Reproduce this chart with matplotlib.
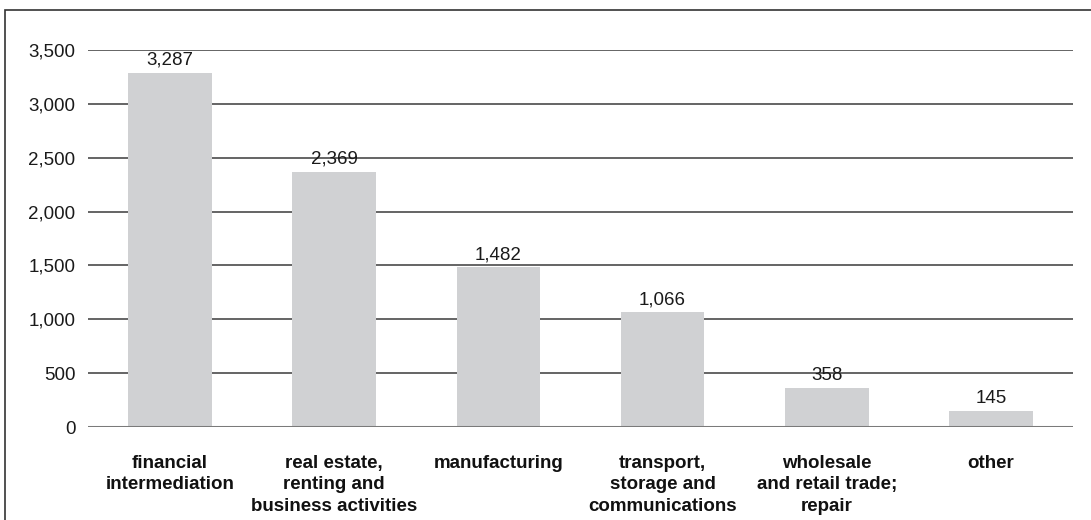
import matplotlib.pyplot as plt
from matplotlib.patches import Rectangle

# sectors and values
sectors = [
    'financial\nintermediation',
    'real estate,\nrenting and\nbusiness activities',
    'manufacturing',
    'transport,\nstorage and\ncommunications',
    'wholesale\nand retail trade;\nrepair',
    'other',
]
values = [3287, 2369, 1482, 1066, 358, 145]
y_ticks = [0, 500, 1000, 1500, 2000, 2500, 3000, 3500]

plt.rcParams['font.family'] = ['Liberation Sans', 'DejaVu Sans']

fig = plt.figure(figsize=(10.91, 5.20), dpi=100)
ax = fig.add_axes([88 / 1091, 93 / 520, 985 / 1091, 377 / 520])

x = range(len(values))
bars = ax.bar(x, values, width=0.51, color='#d0d1d3', zorder=2)

for b, v in zip(bars, values):
    ax.annotate(f'{v:,}', (b.get_x() + b.get_width() / 2, v),
                xytext=(0, 3), textcoords='offset points',
                ha='center', va='bottom', fontsize=13.5, color='#1a1a1a',
                clip_on=False, zorder=3)

# horizontal rules behind bars
for t in y_ticks[1:]:
    ax.axhline(t, color='#3a3a3a', lw=1.1, zorder=1)
ax.axhline(0, color='#7a7a7a', lw=2.2, zorder=3)

ax.set_xlim(-0.5, len(values) - 0.5)
ax.set_ylim(0, 3500)
ax.set_yticks(y_ticks)
ax.set_yticklabels([f'{t:,}' for t in y_ticks], fontsize=13.5, color='#1a1a1a')
ax.tick_params(axis='y', length=0, pad=9)
ax.set_xticks(list(x))
ax.set_xticklabels(sectors, fontsize=13.5, fontweight='bold', linespacing=1.36,
                   color='#111111', va='top')
ax.tick_params(axis='x', length=0, pad=20)
for s in ax.spines.values():
    s.set_visible(False)

# frame round the figure (right and bottom run past the edge)
fig.patches.append(Rectangle((5 / 1091, -0.2), 1.2, 1.2 - 9.5 / 520,
                             transform=fig.transFigure, fill=False,
                             edgecolor='#333333', lw=1.2))

fig.savefig('out.png', dpi=100)
